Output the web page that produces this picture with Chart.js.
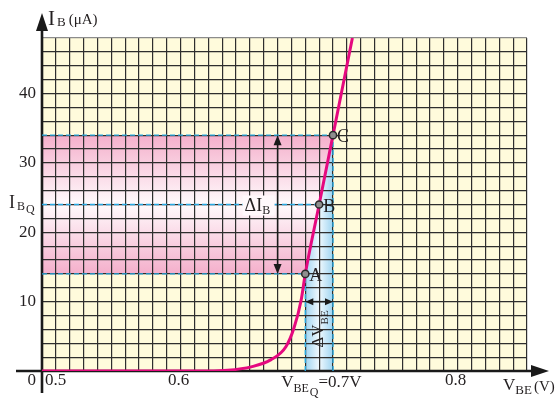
<!DOCTYPE html>
<html>
<head>
<meta charset="utf-8">
<script src="https://cdn.jsdelivr.net/npm/chart.js@4.4.0/dist/chart.umd.min.js"></script>
<style>
html, body { margin: 0; padding: 0; background: #fff; }
#wrap { position: relative; width: 555px; height: 399px; }
</style>
</head>
<body>
<div id="wrap"><canvas id="chart"></canvas></div>
<script>
// input characteristic I_B(V_BE)
const vbe = [0.5, 0.62, 0.634, 0.651, 0.665, 0.676, 0.682, 0.687, 0.69, 0.70, 0.71, 0.724];
const ib = [0, 0, 0.1, 0.6, 1.6, 3.5, 6.3, 10.2, 14, 24, 34, 48];

// marked points A, B, C
const qNames = ["A", "B", "C"];
const qVbe = [0.69, 0.70, 0.71];
const qIb = [14, 24, 34];

// tick labels
const xTicks = [0.6, 0.8];
const yTicks = [10, 20, 30, 40];

// where the two delta arrows sit
const dIbAt = 0.67;
const dVbeAt = 10;

const xMin = 0.5, xMax = 0.85, yMin = 0, yMax = 48;
const serif = '"Liberation Serif", "DejaVu Serif", serif';

function stepTicks(min, max, step) {
    const out = [];
    const n = Math.round((max - min) / step);
    for (let i = 0; i <= n; i++) out.push({ value: +(min + i * step).toFixed(4) });
    return out;
}

function pts(xs, ys) {
    return xs.map((x, i) => ({ x: x, y: ys[i] }));
}

const dash = {
    borderColor: "#29a9e1",
    borderWidth: 1.4,
    borderDash: [5, 3],
    pointRadius: 0,
    showLine: true,
    order: 2
};

const datasets = [
    {
        data: pts(qVbe, qIb),
        pointRadius: 3.6,
        pointBackgroundColor: "#8e8e8e",
        pointBorderColor: "#2a2a2a",
        pointBorderWidth: 1.5,
        showLine: false,
        order: 0
    },
    {
        data: pts(vbe, ib),
        borderColor: "#e5097f",
        borderWidth: 3,
        pointRadius: 0,
        showLine: true,
        cubicInterpolationMode: "monotone",
        order: 1
    }
];
qIb.forEach((v, i) => {
    datasets.push(Object.assign({ data: [{ x: xMin, y: v }, { x: qVbe[i], y: v }] }, dash));
});
[0, 2].forEach(i => {
    datasets.push(Object.assign({ data: [{ x: qVbe[i], y: 0 }, { x: qVbe[i], y: qIb[i] }] }, dash));
});

function arrowHead(ctx, tx, ty, dx, dy, len, half) {
    // tip at (tx,ty), pointing along (dx,dy)
    const bx = tx - dx * len, by = ty - dy * len;
    ctx.beginPath();
    ctx.moveTo(tx, ty);
    ctx.lineTo(bx - dy * half, by + dx * half);
    ctx.lineTo(bx + dy * half, by - dx * half);
    ctx.closePath();
    ctx.fill();
}

const shading = {
    id: "shading",
    beforeDraw(chart) {
        const { ctx, chartArea: a, scales } = chart;
        const X = v => scales.x.getPixelForValue(v);
        const Y = v => scales.y.getPixelForValue(v);
        ctx.save();
        ctx.fillStyle = "#fffbdc";
        ctx.fillRect(a.left, a.top, a.right - a.left, a.bottom - a.top);

        // pink band between I_B of A and C
        const yTop = Y(qIb[2]), yBot = Y(qIb[0]);
        let g = ctx.createLinearGradient(0, yTop, 0, yBot);
        g.addColorStop(0, "#f4afcb");
        g.addColorStop(0.5, "#fffafc");
        g.addColorStop(1, "#f4afcb");
        ctx.fillStyle = g;
        ctx.beginPath();
        ctx.moveTo(X(xMin), yBot);
        ctx.lineTo(X(qVbe[0]), yBot);
        ctx.lineTo(X(qVbe[2]), yTop);
        ctx.lineTo(X(xMin), yTop);
        ctx.closePath();
        ctx.fill();

        // blue band between V_BE of A and C
        const xl = X(qVbe[0]), xr = X(qVbe[2]);
        g = ctx.createLinearGradient(xl, 0, xr, 0);
        g.addColorStop(0, "#9fd4f1");
        g.addColorStop(0.5, "#f0f9fe");
        g.addColorStop(1, "#9fd4f1");
        ctx.fillStyle = g;
        ctx.beginPath();
        ctx.moveTo(xl, Y(0));
        ctx.lineTo(xr, Y(0));
        ctx.lineTo(xr, yTop);
        ctx.lineTo(xl, yBot);
        ctx.closePath();
        ctx.fill();
        ctx.restore();
    },
    beforeDatasetsDraw(chart) {
        const { ctx, chartArea: a } = chart;
        ctx.save();
        ctx.strokeStyle = "#1a1a1a";
        ctx.fillStyle = "#1a1a1a";
        ctx.lineWidth = 2.6;
        ctx.beginPath();
        ctx.moveTo(a.left, a.top - 8);
        ctx.lineTo(a.left, a.bottom + 22);
        ctx.moveTo(a.left - 26, a.bottom);
        ctx.lineTo(a.right + 6, a.bottom);
        ctx.stroke();
        arrowHead(ctx, a.left, a.top - 25, 0, -1, 18, 6);
        arrowHead(ctx, a.right + 22, a.bottom, 1, 0, 18, 6);
        ctx.restore();
    },
    afterDatasetsDraw(chart) {
        const { ctx, scales } = chart;
        const X = v => scales.x.getPixelForValue(v);
        const Y = v => scales.y.getPixelForValue(v);
        ctx.save();
        ctx.strokeStyle = "#1a1a1a";
        ctx.fillStyle = "#1a1a1a";
        ctx.lineWidth = 1.5;

        // delta I_B arrow
        const ax = X(dIbAt), y1 = Y(qIb[2]), y2 = Y(qIb[0]);
        ctx.beginPath();
        ctx.moveTo(ax, y1 + 4);
        ctx.lineTo(ax, y2 - 4);
        ctx.stroke();
        arrowHead(ctx, ax, y1, 0, -1, 10, 4);
        arrowHead(ctx, ax, y2, 0, 1, 10, 4);

        // delta V_BE arrow
        const ay = Y(dVbeAt), x1 = X(qVbe[0]), x2 = X(qVbe[2]);
        ctx.beginPath();
        ctx.moveTo(x1 + 3, ay);
        ctx.lineTo(x2 - 3, ay);
        ctx.stroke();
        arrowHead(ctx, x1, ay, -1, 0, 8, 3.5);
        arrowHead(ctx, x2, ay, 1, 0, 8, 3.5);
        ctx.restore();
    },
    afterDraw(chart) {
        const { ctx, chartArea: a, scales } = chart;
        const X = v => scales.x.getPixelForValue(v);
        const Y = v => scales.y.getPixelForValue(v);
        const f = px => px + "px " + serif;
        ctx.save();
        ctx.fillStyle = "#231f20";

        // y tick labels
        ctx.font = f(17);
        ctx.textAlign = "right";
        ctx.textBaseline = "middle";
        yTicks.forEach(v => ctx.fillText(String(v), a.left - 6, Y(v)));
        ctx.fillText("0", a.left - 6, a.bottom + 10);

        // x tick labels
        ctx.textAlign = "left";
        ctx.fillText("0.5", X(xMin) + 3, a.bottom + 10);
        ctx.textAlign = "center";
        xTicks.forEach(v => ctx.fillText(v.toFixed(1), X(v) - 2, a.bottom + 10));

        ctx.textBaseline = "alphabetic";
        ctx.textAlign = "left";

        // V_BEQ = 0.7V
        let x = X(qVbe[1]) - 38;
        const base = a.bottom + 16;
        ctx.font = f(17);
        ctx.fillText("V", x, base);
        x += ctx.measureText("V").width;
        ctx.font = f(12);
        ctx.fillText("BE", x, base + 5);
        x += ctx.measureText("BE").width + 1;
        ctx.fillText("Q", x, base + 9);
        x += ctx.measureText("Q").width;
        ctx.font = f(17);
        ctx.fillText("=0.7V", x, base);

        // V_BE (V) axis title
        x = a.right - 24;
        ctx.font = f(17);
        ctx.fillText("V", x, a.bottom + 19);
        x += ctx.measureText("V").width;
        ctx.font = f(13);
        ctx.fillText("BE", x, a.bottom + 23);
        x += ctx.measureText("BE").width + 2;
        ctx.font = f(15);
        ctx.fillText("(V)", x, a.bottom + 20);

        // I_B (µA) axis title
        x = a.left + 6;
        ctx.font = f(21);
        ctx.fillText("I", x, a.top - 13);
        x += ctx.measureText("I").width + 2;
        ctx.font = f(13);
        ctx.fillText("B", x, a.top - 12);
        x += ctx.measureText("B").width + 3;
        ctx.font = f(15);
        ctx.fillText("(\u03bcA)", x, a.top - 14);

        // I_BQ on the y axis
        const yq = Y(qIb[1]);
        x = 9;
        ctx.font = f(18);
        ctx.fillText("I", x, yq + 3);
        x += ctx.measureText("I").width + 2;
        ctx.font = f(12);
        ctx.fillText("B", x, yq + 5);
        x += ctx.measureText("B").width + 1;
        ctx.fillText("Q", x, yq + 8);

        // A, B, C
        ctx.font = f(18);
        qNames.forEach((n, i) => ctx.fillText(n, X(qVbe[i]) + 4, Y(qIb[i]) + 7));

        // delta I_B label with its own backing
        x = X(dIbAt) - 33;
        ctx.fillStyle = "#fff8fb";
        ctx.fillRect(x - 2, yq - 9, 32, 20);
        ctx.fillStyle = "#231f20";
        ctx.font = f(18);
        ctx.fillText("\u0394I", x, yq + 6);
        x += ctx.measureText("\u0394I").width;
        ctx.font = f(12);
        ctx.fillText("B", x, yq + 9);

        // delta V_BE label, rotated, reading upward below the arrow
        ctx.translate(X(qVbe[1]) + 4, Y(dVbeAt) + 46);
        ctx.rotate(-Math.PI / 2);
        ctx.font = f(17);
        ctx.fillText("\u0394V", 0, 0);
        const w = ctx.measureText("\u0394V").width;
        ctx.font = f(11);
        ctx.fillText("BE", w, 5);
        ctx.restore();
    }
};

const gridColor = c => (c.tick && c.tick.value === yMax ? "#8c8c8c" : "#2e2e2e");

new Chart(document.getElementById("chart"), {
    type: "scatter",
    data: { datasets: datasets },
    options: {
        responsive: true,
        maintainAspectRatio: false,
        animation: false,
        layout: { padding: { left: 42, top: 38, right: 28, bottom: 28 } },
        plugins: { legend: { display: false }, tooltip: { enabled: false } },
        scales: {
            x: {
                type: "linear",
                min: xMin,
                max: xMax,
                afterBuildTicks: s => { s.ticks = stepTicks(xMin, xMax, 0.01); },
                ticks: { display: false },
                grid: { color: "#2e2e2e", lineWidth: 1.2, drawTicks: false },
                border: { display: false }
            },
            y: {
                type: "linear",
                min: yMin,
                max: yMax,
                afterBuildTicks: s => { s.ticks = stepTicks(yMin, yMax, 2); },
                ticks: { display: false },
                grid: { color: gridColor, lineWidth: 1.2, drawTicks: false },
                border: { display: false }
            }
        }
    },
    plugins: [shading]
});
</script>
</body>
</html>
